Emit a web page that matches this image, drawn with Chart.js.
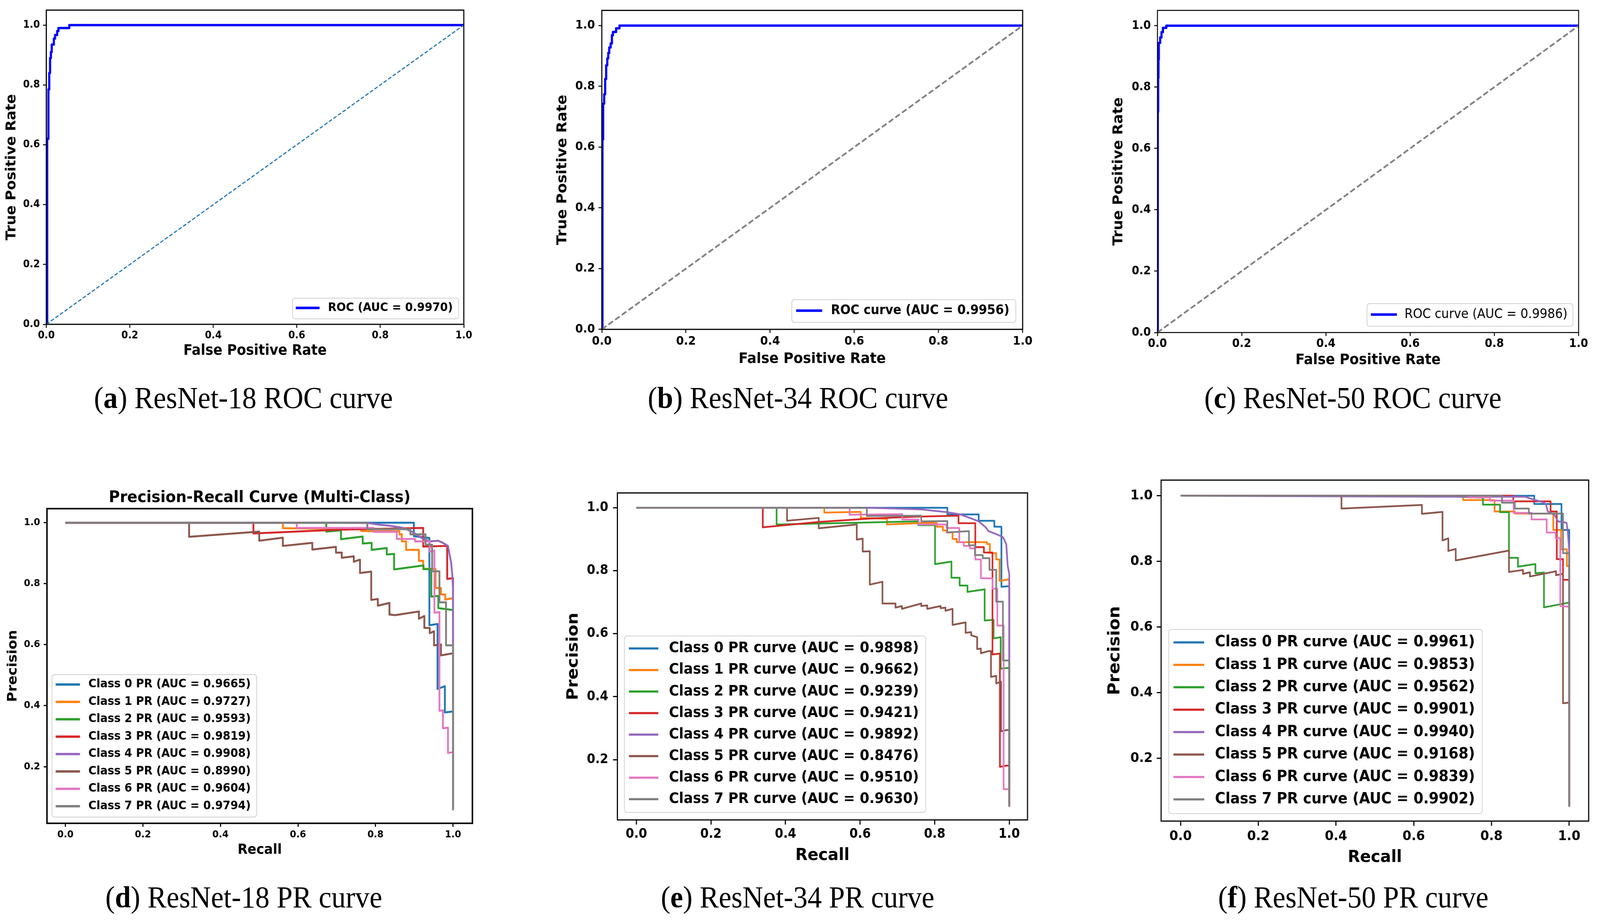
<!DOCTYPE html>
<html>
<head>
<meta charset="utf-8">
<script src="https://cdn.jsdelivr.net/npm/chart.js@4.4.1/dist/chart.umd.min.js"></script>
<style>
html,body{margin:0;padding:0;background:#fff;overflow:hidden;}
#page{position:absolute;left:0;top:0;width:4371px;height:2357px;transform-origin:0 0;background:#fff;overflow:hidden;}
#page canvas{position:absolute;}
.cap{position:absolute;font-family:"Liberation Serif","DejaVu Serif",serif;font-size:78px;line-height:78px;white-space:nowrap;transform:translateX(-50%);color:#000;}
</style>
</head>
<body>
<div id="page">
<div class="cap" style="left:665px;top:979px">(<b>a</b>) ResNet-18 ROC curve</div>
<div class="cap" style="left:2180px;top:979px">(<b>b</b>) ResNet-34 ROC curve</div>
<div class="cap" style="left:3696px;top:979px">(<b>c</b>) ResNet-50 ROC curve</div>
<div class="cap" style="left:666px;top:2257px">(<b>d</b>) ResNet-18 PR curve</div>
<div class="cap" style="left:2179px;top:2257px">(<b>e</b>) ResNet-34 PR curve</div>
<div class="cap" style="left:3697px;top:2257px">(<b>f</b>) ResNet-50 PR curve</div>
</div>
<script>
// ---------------- DATA ----------------
const X_TICKS = [0, 0.2, 0.4, 0.6, 0.8, 1.0];
const ROC_Y_TICKS = [0, 0.2, 0.4, 0.6, 0.8, 1.0];
const PR_Y_TICKS = [0.2, 0.4, 0.6, 0.8, 1.0];

const CHANCE_X = [0, 1];
const CHANCE_Y = [0, 1];

const ROC18_AUC = 0.9970;
const ROC18_FPR = [0, 0.002, 0.002, 0.005, 0.005, 0.007, 0.007, 0.009, 0.009, 0.011, 0.011, 0.013, 0.013, 0.018, 0.018, 0.021, 0.021, 0.026, 0.026, 0.029, 0.029, 0.055, 0.055, 1.0];
const ROC18_TPR = [0, 0, 0.62, 0.62, 0.785, 0.785, 0.84, 0.84, 0.89, 0.89, 0.91, 0.91, 0.935, 0.935, 0.955, 0.955, 0.967, 0.967, 0.98, 0.98, 0.99, 0.99, 1.0, 1.0];

const ROC34_AUC = 0.9956;
const ROC34_FPR = [0, 0.0016, 0.0016, 0.0032, 0.0032, 0.0056, 0.0056, 0.008, 0.008, 0.0104, 0.0104, 0.013, 0.013, 0.0153, 0.0153, 0.0177, 0.0177, 0.021, 0.021, 0.024, 0.024, 0.0265, 0.0265, 0.034, 0.034, 0.042, 0.042, 1.0];
const ROC34_TPR = [0, 0, 0.625, 0.625, 0.743, 0.743, 0.774, 0.774, 0.824, 0.824, 0.869, 0.869, 0.892, 0.892, 0.91, 0.91, 0.928, 0.928, 0.941, 0.941, 0.968, 0.968, 0.979, 0.979, 0.991, 0.991, 1.0, 1.0];

const ROC50_AUC = 0.9986;
const ROC50_FPR = [0, 0.0008, 0.0008, 0.0016, 0.0016, 0.0024, 0.0024, 0.0032, 0.0032, 0.0064, 0.0064, 0.0096, 0.0096, 0.013, 0.013, 0.021, 0.021, 1.0];
const ROC50_TPR = [0, 0, 0.72, 0.72, 0.83, 0.83, 0.89, 0.89, 0.944, 0.944, 0.962, 0.962, 0.979, 0.979, 0.993, 0.993, 1.0, 1.0];

const CLASS_IDS = [0, 1, 2, 3, 4, 5, 6, 7];

const PR18_AUC = [0.9665, 0.9727, 0.9593, 0.9819, 0.9908, 0.8990, 0.9604, 0.9794];
const PR18_RECALL = [
  [0, 0.899, 0.899, 0.939, 0.939, 0.960, 0.960, 0.979, 0.979, 1.0, 1.0],
  [0, 0.561, 0.561, 0.763, 0.763, 0.862, 0.862, 0.868, 0.868, 0.879, 0.879, 0.912, 0.912, 0.923, 0.923, 0.955, 0.955, 0.969, 0.969, 0.980, 0.980, 0.998, 1.0, 1.0],
  [0, 0.673, 0.673, 0.711, 0.711, 0.767, 0.767, 0.790, 0.790, 0.829, 0.829, 0.848, 0.848, 0.924, 0.924, 0.944, 0.944, 0.962, 0.962, 0.998, 1.0, 1.0],
  [0, 0.485, 0.485, 0.7, 0.923, 0.923, 0.985, 0.985, 1.0, 1.0],
  [0, 0.72, 0.782, 0.807, 0.839, 0.871, 0.887, 0.895, 0.918, 0.940, 0.962, 0.974, 0.987, 0.991, 0.995, 0.998, 1.0, 1.0],
  [0, 0.319, 0.319, 0.5, 0.5, 0.561, 0.561, 0.637, 0.637, 0.698, 0.698, 0.713, 0.713, 0.744, 0.744, 0.760, 0.760, 0.789, 0.789, 0.806, 0.806, 0.836, 0.836, 0.851, 0.912, 0.912, 0.926, 0.926, 0.940, 0.940, 0.951, 0.951, 0.969, 0.969, 0.996, 1.0, 1.0],
  [0, 0.597, 0.597, 0.795, 0.795, 0.855, 0.855, 0.902, 0.902, 0.940, 0.940, 0.952, 0.952, 0.965, 0.965, 0.974, 0.974, 0.987, 0.987, 0.998, 1.0, 1.0],
  [0, 0.779, 0.779, 0.890, 0.890, 0.929, 0.929, 0.946, 0.946, 0.965, 0.965, 0.982, 0.982, 1.0, 1.0]
];
const PR18_PRECISION = [
  [1, 1, 0.956, 0.950, 0.664, 0.668, 0.455, 0.464, 0.378, 0.381, 0.06],
  [1, 1, 0.982, 0.979, 0.973, 0.972, 0.962, 0.962, 0.939, 0.939, 0.911, 0.911, 0.875, 0.875, 0.849, 0.849, 0.786, 0.786, 0.765, 0.765, 0.748, 0.752, 0.752, 0.06],
  [1, 1, 0.971, 0.975, 0.946, 0.955, 0.932, 0.934, 0.911, 0.917, 0.896, 0.898, 0.847, 0.860, 0.848, 0.848, 0.758, 0.760, 0.72, 0.714, 0.714, 0.06],
  [1, 1, 0.965, 0.977, 0.983, 0.922, 0.924, 0.816, 0.818, 0.06],
  [1, 1, 0.999, 0.994, 0.99, 0.983, 0.975, 0.970, 0.951, 0.939, 0.941, 0.934, 0.924, 0.896, 0.871, 0.832, 0.786, 0.06],
  [1, 1, 0.954, 0.971, 0.941, 0.951, 0.924, 0.934, 0.912, 0.921, 0.902, 0.902, 0.885, 0.890, 0.872, 0.879, 0.835, 0.840, 0.747, 0.750, 0.728, 0.737, 0.699, 0.697, 0.709, 0.685, 0.694, 0.655, 0.655, 0.638, 0.644, 0.598, 0.601, 0.565, 0.571, 0.571, 0.06],
  [1, 1, 0.983, 0.983, 0.970, 0.970, 0.947, 0.947, 0.939, 0.939, 0.905, 0.909, 0.705, 0.707, 0.383, 0.385, 0.326, 0.328, 0.245, 0.247, 0.247, 0.06],
  [1, 1, 0.979, 0.979, 0.962, 0.962, 0.928, 0.928, 0.841, 0.841, 0.739, 0.739, 0.598, 0.598, 0.06]
];

const PR34_AUC = [0.9898, 0.9662, 0.9239, 0.9421, 0.9892, 0.8476, 0.9510, 0.9630];
const PR34_RECALL = [
  [0, 0.834, 0.834, 0.918, 0.918, 0.960, 0.960, 0.979, 0.979, 0.997, 1.0, 1.0],
  [0, 0.504, 0.504, 0.602, 0.602, 0.672, 0.672, 0.79, 0.806, 0.806, 0.822, 0.822, 0.832, 0.832, 0.848, 0.848, 0.859, 0.859, 0.940, 0.940, 0.948, 0.948, 0.965, 0.965, 0.974, 0.974, 0.997, 1.0, 1.0],
  [0, 0.376, 0.376, 0.756, 0.756, 0.801, 0.801, 0.845, 0.845, 0.867, 0.867, 0.888, 0.888, 0.934, 0.934, 0.958, 0.958, 0.977, 0.977, 0.993, 1.0, 1.0],
  [0, 0.339, 0.339, 0.489, 0.628, 0.75, 0.864, 0.864, 0.909, 0.909, 0.932, 0.932, 0.955, 0.955, 0.975, 0.975, 0.994, 1.0, 1.0],
  [0, 0.62, 0.689, 0.764, 0.803, 0.835, 0.869, 0.892, 0.918, 0.937, 0.944, 0.966, 0.983, 0.992, 0.996, 1.0, 1.0],
  [0, 0.404, 0.404, 0.489, 0.489, 0.591, 0.591, 0.607, 0.607, 0.626, 0.626, 0.660, 0.660, 0.695, 0.695, 0.712, 0.712, 0.764, 0.764, 0.780, 0.780, 0.816, 0.816, 0.829, 0.829, 0.848, 0.848, 0.883, 0.883, 0.898, 0.898, 0.914, 0.914, 0.924, 0.924, 0.945, 0.951, 0.951, 0.965, 0.965, 0.978, 0.978, 0.993, 1.0, 1.0],
  [0, 0.572, 0.572, 0.713, 0.713, 0.757, 0.757, 0.832, 0.832, 0.866, 0.866, 0.878, 0.878, 0.895, 0.895, 0.909, 0.909, 0.924, 0.924, 0.955, 0.955, 0.968, 0.968, 0.985, 0.985, 0.995, 1.0, 1.0],
  [0, 0.618, 0.618, 0.764, 0.764, 0.834, 0.834, 0.892, 0.892, 0.908, 0.908, 0.929, 0.929, 0.947, 0.947, 0.965, 0.965, 0.983, 0.983, 1.0, 1.0]
];
const PR34_PRECISION = [
  [1, 1, 0.979, 0.979, 0.959, 0.959, 0.940, 0.940, 0.749, 0.751, 0.751, 0.053],
  [1, 1, 0.985, 0.987, 0.968, 0.965, 0.947, 0.953, 0.951, 0.940, 0.940, 0.928, 0.928, 0.922, 0.922, 0.901, 0.901, 0.891, 0.891, 0.885, 0.885, 0.856, 0.856, 0.836, 0.836, 0.768, 0.772, 0.772, 0.053],
  [1, 1, 0.947, 0.957, 0.945, 0.945, 0.821, 0.829, 0.778, 0.778, 0.753, 0.753, 0.733, 0.741, 0.642, 0.644, 0.585, 0.589, 0.489, 0.491, 0.491, 0.053],
  [1, 1, 0.938, 0.955, 0.966, 0.972, 0.975, 0.951, 0.951, 0.875, 0.875, 0.858, 0.858, 0.534, 0.537, 0.177, 0.181, 0.181, 0.053],
  [1, 1, 0.998, 0.995, 0.99, 0.986, 0.979, 0.969, 0.957, 0.938, 0.926, 0.916, 0.907, 0.885, 0.815, 0.79, 0.053],
  [1, 1, 0.959, 0.968, 0.935, 0.947, 0.899, 0.902, 0.861, 0.862, 0.756, 0.765, 0.696, 0.696, 0.683, 0.688, 0.679, 0.696, 0.688, 0.690, 0.679, 0.688, 0.681, 0.683, 0.673, 0.679, 0.628, 0.636, 0.603, 0.605, 0.595, 0.589, 0.551, 0.553, 0.538, 0.545, 0.545, 0.463, 0.466, 0.442, 0.448, 0.290, 0.294, 0.294, 0.053],
  [1, 1, 0.978, 0.980, 0.963, 0.963, 0.947, 0.947, 0.936, 0.936, 0.891, 0.891, 0.879, 0.879, 0.871, 0.871, 0.836, 0.836, 0.776, 0.776, 0.743, 0.743, 0.626, 0.626, 0.106, 0.106, 0.106, 0.053],
  [1, 1, 0.974, 0.975, 0.957, 0.958, 0.922, 0.926, 0.881, 0.881, 0.850, 0.850, 0.840, 0.840, 0.803, 0.803, 0.702, 0.702, 0.515, 0.515, 0.053]
];

const PR50_AUC = [0.9961, 0.9853, 0.9562, 0.9901, 0.9940, 0.9168, 0.9839, 0.9902];
const PR50_RECALL = [
  [0, 0.910, 0.910, 0.980, 0.980, 1.0, 1.0],
  [0, 0.727, 0.727, 0.808, 0.808, 0.860, 0.860, 0.959, 0.959, 0.979, 0.979, 0.994, 0.994, 1.0, 1.0],
  [0, 0.66, 0.778, 0.778, 0.822, 0.822, 0.845, 0.845, 0.868, 0.868, 0.913, 0.913, 0.935, 0.935, 0.997, 1.0, 1.0],
  [0, 0.856, 0.856, 0.952, 0.952, 0.968, 0.968, 0.984, 0.984, 1.0, 1.0],
  [0, 0.659, 0.887, 0.912, 0.931, 0.940, 0.945, 0.962, 0.971, 0.993, 0.996, 1.0, 1.0],
  [0, 0.414, 0.414, 0.621, 0.621, 0.674, 0.674, 0.689, 0.689, 0.708, 0.708, 0.845, 0.845, 0.881, 0.881, 0.899, 0.899, 0.966, 0.966, 0.984, 0.984, 1.0, 1.0],
  [0, 0.74, 0.74, 0.796, 0.796, 0.857, 0.857, 0.903, 0.903, 0.942, 0.942, 0.965, 0.965, 0.977, 0.977, 1.0, 1.0],
  [0, 0.827, 0.827, 0.860, 0.860, 0.896, 0.896, 0.984, 0.984, 1.0, 1.0]
];
const PR50_PRECISION = [
  [1, 1, 0.975, 0.975, 0.896, 0.896, 0.055],
  [1, 1, 0.987, 0.987, 0.952, 0.952, 0.946, 0.946, 0.896, 0.896, 0.837, 0.837, 0.786, 0.786, 0.055],
  [1, 1, 0.994, 0.973, 0.973, 0.950, 0.950, 0.811, 0.811, 0.784, 0.792, 0.764, 0.766, 0.660, 0.674, 0.674, 0.055],
  [1, 1, 0.983, 0.983, 0.952, 0.952, 0.807, 0.807, 0.744, 0.744, 0.055],
  [1, 0.997, 0.997, 0.987, 0.981, 0.975, 0.952, 0.942, 0.922, 0.918, 0.894, 0.833, 0.055],
  [1, 1, 0.961, 0.972, 0.945, 0.951, 0.864, 0.870, 0.832, 0.838, 0.803, 0.833, 0.768, 0.774, 0.762, 0.767, 0.754, 0.770, 0.758, 0.762, 0.368, 0.370, 0.055],
  [1, 1, 0.995, 0.995, 0.985, 0.985, 0.948, 0.948, 0.928, 0.928, 0.888, 0.888, 0.871, 0.871, 0.664, 0.662, 0.055],
  [1, 1, 0.979, 0.979, 0.961, 0.961, 0.946, 0.946, 0.825, 0.825, 0.055]
];

// ---------------- STYLE ----------------
const PAGE_W = 4371, PAGE_H = 2357;
const COLORS = ['#1f77b4', '#ff7f0e', '#2ca02c', '#d62728', '#9467bd', '#8c564b', '#e377c2', '#7f7f7f'];
const FAM = '"DejaVu Sans", "Open Sans", sans-serif';
const PAGE = document.getElementById('page');

(function fitPage() {
  const vw = window.innerWidth, vh = window.innerHeight;
  const sx = vw > 0 ? vw / PAGE_W : 1;
  const sy = vh > 0 ? vh / PAGE_H : 1;
  if (Math.abs(sx - 1) > 0.002 || Math.abs(sy - 1) > 0.002) {
    PAGE.style.transform = 'scale(' + sx + ',' + sy + ')';
  }
})();

function pts(xs, ys) { return xs.map((x, i) => ({x: x, y: ys[i]})); }

const framePlugin = {
  id: 'frame',
  afterDatasetsDraw(chart, args, o) {
    const ctx = chart.ctx, a = chart.chartArea;
    ctx.save();
    ctx.strokeStyle = '#000';
    ctx.lineWidth = o.width;
    ctx.setLineDash([]);
    ctx.strokeRect(a.left, a.top, a.right - a.left, a.bottom - a.top);
    ctx.restore();
  }
};

const boxLegendPlugin = {
  id: 'boxLegend',
  afterDraw(chart, args, o) {
    const ctx = chart.ctx;
    const x1 = o.bx1, y1 = o.by1, x2 = o.bx2, y2 = o.by2, r = o.radius;
    ctx.save();
    ctx.setLineDash([]);
    ctx.beginPath();
    ctx.moveTo(x1 + r, y1);
    ctx.lineTo(x2 - r, y1);
    ctx.arcTo(x2, y1, x2, y1 + r, r);
    ctx.lineTo(x2, y2 - r);
    ctx.arcTo(x2, y2, x2 - r, y2, r);
    ctx.lineTo(x1 + r, y2);
    ctx.arcTo(x1, y2, x1, y2 - r, r);
    ctx.lineTo(x1, y1 + r);
    ctx.arcTo(x1, y1, x1 + r, y1, r);
    ctx.closePath();
    ctx.fillStyle = 'rgba(255,255,255,0.8)';
    ctx.fill();
    ctx.strokeStyle = '#d0d0d0';
    ctx.lineWidth = 2;
    ctx.stroke();
    const items = chart.data.datasets.filter(d => !d.noLegend);
    ctx.font = o.weight + ' ' + o.size + 'px ' + FAM;
    ctx.textBaseline = 'middle';
    ctx.textAlign = 'left';
    items.forEach((d, i) => {
      const y = o.rowY + i * o.rowGap;
      ctx.strokeStyle = d.borderColor;
      ctx.lineWidth = o.handleWidth;
      ctx.lineCap = 'butt';
      ctx.beginPath();
      ctx.moveTo(o.hx1, y);
      ctx.lineTo(o.hx2, y);
      ctx.stroke();
      ctx.fillStyle = '#000';
      ctx.fillText(d.label, o.tx, y);
    });
    ctx.restore();
  }
};

function makeChart(L, datasets) {
  const W = L.box[2] - L.box[0], H = L.box[3] - L.box[1];
  const c = document.createElement('canvas');
  c.width = W; c.height = H;
  c.style.left = L.box[0] + 'px'; c.style.top = L.box[1] + 'px';
  c.style.width = W + 'px'; c.style.height = H + 'px';
  PAGE.appendChild(c);
  const ox = L.box[0], oy = L.box[1];
  const yW = L.plot[0] - ox;
  const xH = L.box[3] - L.plot[3];
  const titleH = L.title ? L.title.size * 1.2 + L.title.pt + L.title.pb : 0;
  const tickFont = {family: FAM, size: L.tick, weight: 'bold', lineHeight: 1.2};
  const zeroPad = s => { s.paddingLeft = 0; s.paddingRight = 0; s.paddingTop = 0; s.paddingBottom = 0; };
  const lg = L.legend;
  return new Chart(c, {
    type: 'line',
    data: {datasets: datasets},
    options: {
      responsive: false, animation: false, devicePixelRatio: 1, events: [],
      layout: {padding: {left: 0, bottom: 0, top: L.plot[1] - oy - titleH, right: L.box[2] - L.plot[2]}},
      elements: {point: {radius: 0, hoverRadius: 0}, line: {tension: 0, fill: false, borderJoinStyle: 'round', borderCapStyle: 'butt'}},
      plugins: {
        legend: {display: false},
        tooltip: {enabled: false},
        title: L.title ? {display: true, text: L.title.text, fullSize: false, color: '#000',
          font: {family: FAM, size: L.title.size, weight: 'bold', lineHeight: 1.2},
          padding: {top: L.title.pt, bottom: L.title.pb}} : {display: false},
        frame: {width: L.frame},
        boxLegend: {bx1: lg.box[0] - ox, by1: lg.box[1] - oy, bx2: lg.box[2] - ox, by2: lg.box[3] - oy, radius: 7,
          hx1: lg.hx[0] - ox, hx2: lg.hx[1] - ox, tx: lg.tx - ox, rowY: lg.rowY - oy, rowGap: lg.gap,
          size: lg.size, weight: lg.weight, handleWidth: lg.hw}
      },
      scales: {
        x: {
          type: 'linear', position: 'bottom', min: L.xlim[0], max: L.xlim[1],
          afterFit: s => { s.height = xH; zeroPad(s); },
          afterBuildTicks: s => { s.ticks = X_TICKS.map(v => ({value: v})); },
          ticks: {autoSkip: false, maxRotation: 0, minRotation: 0, padding: L.xpad, color: '#000', font: tickFont,
            callback: v => Number(v).toFixed(1)},
          grid: {display: true, drawOnChartArea: false, drawTicks: true, tickLength: L.tl, tickWidth: L.tw, tickColor: '#000', color: '#000'},
          border: {display: false},
          title: {display: true, text: L.xtitle, color: '#000', font: {family: FAM, size: L.xts, weight: 'bold', lineHeight: 1.2},
            padding: {top: 0, bottom: L.box[3] - L.xty - L.xts * 0.6}}
        },
        y: {
          type: 'linear', position: 'left', min: L.ylim[0], max: L.ylim[1],
          afterFit: s => { s.width = yW; zeroPad(s); },
          afterBuildTicks: s => { s.ticks = L.yticks.map(v => ({value: v})); },
          ticks: {autoSkip: false, padding: L.ypad, color: '#000', font: tickFont, callback: v => Number(v).toFixed(1)},
          grid: {display: true, drawOnChartArea: false, drawTicks: true, tickLength: L.tl, tickWidth: L.tw, tickColor: '#000', color: '#000'},
          border: {display: false},
          title: {display: true, text: L.ytitle, color: '#000', font: {family: FAM, size: L.yts, weight: 'bold', lineHeight: 1.2},
            padding: {top: L.ytx - ox - L.yts * 0.6, bottom: 0}}
        }
      }
    },
    plugins: [framePlugin, boxLegendPlugin]
  });
}

function rocDatasets(fpr, tpr, label, diagColor, diagWidth, diagDash) {
  return [
    {label: label, data: pts(fpr, tpr), borderColor: '#0000ff', borderWidth: 6, order: 1},
    {label: 'chance', noLegend: true, data: pts(CHANCE_X, CHANCE_Y), borderColor: diagColor, borderWidth: diagWidth, borderDash: diagDash, order: 0}
  ];
}
function prDatasets(R, P, AUC, word, width) {
  return CLASS_IDS.map(i => ({
    label: 'Class ' + i + ' ' + word + ' (AUC = ' + AUC[i].toFixed(4) + ')',
    data: pts(R[i], P[i]), borderColor: COLORS[i], borderWidth: width, order: 7 - i
  }));
}

// (a)
makeChart({
  box: [0, 0, 1300, 960], plot: [126.5, 25.9, 1267, 830],
  xlim: [0, 1], ylim: [0, 1.05], yticks: ROC_Y_TICKS,
  tick: 26, tl: 9, tw: 2.5, xpad: 5, ypad: 8.5, frame: 3,
  xtitle: 'False Positive Rate', xts: 36.5, xty: 899,
  ytitle: 'True Positive Rate', yts: 36.5, ytx: 32.3,
  legend: {box: [799, 763, 1253, 816], hx: [808, 873], tx: 896, rowY: 788, gap: 0, size: 30.2, weight: 'bold', hw: 6.5}
}, rocDatasets(ROC18_FPR, ROC18_TPR, 'ROC (AUC = ' + ROC18_AUC.toFixed(4) + ')', '#1f77b4', 3, [10, 5]));

// (b)
makeChart({
  box: [1460, 0, 2830, 960], plot: [1644, 26.6, 2793.7, 842.9],
  xlim: [0, 1], ylim: [0, 1.05], yticks: ROC_Y_TICKS,
  tick: 30.5, tl: 9, tw: 2.5, xpad: 4.2, ypad: 9.5, frame: 3,
  xtitle: 'False Positive Rate', xts: 37.5, xty: 919,
  ytitle: 'True Positive Rate', yts: 37.5, ytx: 1537.7,
  legend: {box: [2163, 767, 2775, 825], hx: [2175, 2246], tx: 2270, rowY: 795, gap: 0, size: 33, weight: 'bold', hw: 6.5}
}, rocDatasets(ROC34_FPR, ROC34_TPR, 'ROC curve (AUC = ' + ROC34_AUC.toFixed(4) + ')', '#808080', 4.5, [15, 7]));

// (c)
makeChart({
  box: [2990, 0, 4360, 960], plot: [3162, 26.6, 4312.5, 851],
  xlim: [0, 1], ylim: [0, 1.05], yticks: ROC_Y_TICKS,
  tick: 29.5, tl: 9, tw: 2.5, xpad: 2.3, ypad: 9, frame: 2.5,
  xtitle: 'False Positive Rate', xts: 37, xty: 922.7,
  ytitle: 'True Positive Rate', yts: 37, ytx: 3056.7,
  legend: {box: [3734.5, 777, 4297, 835], hx: [3745, 3816], tx: 3837, rowY: 805, gap: 0, size: 33, weight: 'normal', hw: 6.5}
}, rocDatasets(ROC50_FPR, ROC50_TPR, 'ROC curve (AUC = ' + ROC50_AUC.toFixed(4) + ')', '#808080', 4.5, [15, 7]));

// (d)
makeChart({
  box: [0, 1230, 1330, 2240], plot: [128.3, 1301.7, 1290.5, 2107],
  xlim: [-0.0476, 1.05], ylim: [0.0142, 1.0463], yticks: PR_Y_TICKS,
  tick: 25, tl: 9, tw: 3, xpad: 5.7, ypad: 9.7, frame: 4,
  title: {text: 'Precision-Recall Curve (Multi-Class)', size: 41, pt: 20.1, pb: 2.4},
  xtitle: 'Recall', xts: 35.6, xty: 2176,
  ytitle: 'Precision', yts: 35.6, ytx: 36.2,
  legend: {box: [142, 1726.4, 701, 2091], hx: [152, 218.5], tx: 241.4, rowY: 1751.7, gap: 44.5, size: 30, weight: 'bold', hw: 6}
}, prDatasets(PR18_RECALL, PR18_PRECISION, PR18_AUC, 'PR', 5));

// (e)
makeChart({
  box: [1520, 1230, 2850, 2250], plot: [1686.6, 1261.5, 2807, 2098.3],
  xlim: [-0.051, 1.049], ylim: [0.0085, 1.0473], yticks: PR_Y_TICKS,
  tick: 33, tl: 12, tw: 3, xpad: 5.7, ypad: 12.8, frame: 3,
  xtitle: 'Recall', xts: 43.5, xty: 2190,
  ytitle: 'Precision', yts: 43.3, ytx: 1567,
  legend: {box: [1705.7, 1627.6, 2528.7, 2079], hx: [1718, 1798.4], tx: 1827.4, rowY: 1659.6, gap: 55.1, size: 37.4, weight: 'bold', hw: 5.5}
}, prDatasets(PR34_RECALL, PR34_PRECISION, PR34_AUC, 'PR curve', 4.5));

// (f)
makeChart({
  box: [3000, 1200, 4371, 2250], plot: [3172, 1228.7, 4340, 2101.3],
  xlim: [-0.05, 1.05], ylim: [0.0089, 1.0477], yticks: PR_Y_TICKS,
  tick: 34.5, tl: 12, tw: 3, xpad: 7.4, ypad: 11, frame: 3,
  xtitle: 'Recall', xts: 43.5, xty: 2195,
  ytitle: 'Precision', yts: 44, ytx: 3047,
  legend: {box: [3193, 1610.8, 4049.6, 2082], hx: [3205.7, 3289.8], tx: 3319.2, rowY: 1644, gap: 57.4, size: 38.9, weight: 'bold', hw: 5.5}
}, prDatasets(PR50_RECALL, PR50_PRECISION, PR50_AUC, 'PR curve', 4.5));
</script>
</body>
</html>
